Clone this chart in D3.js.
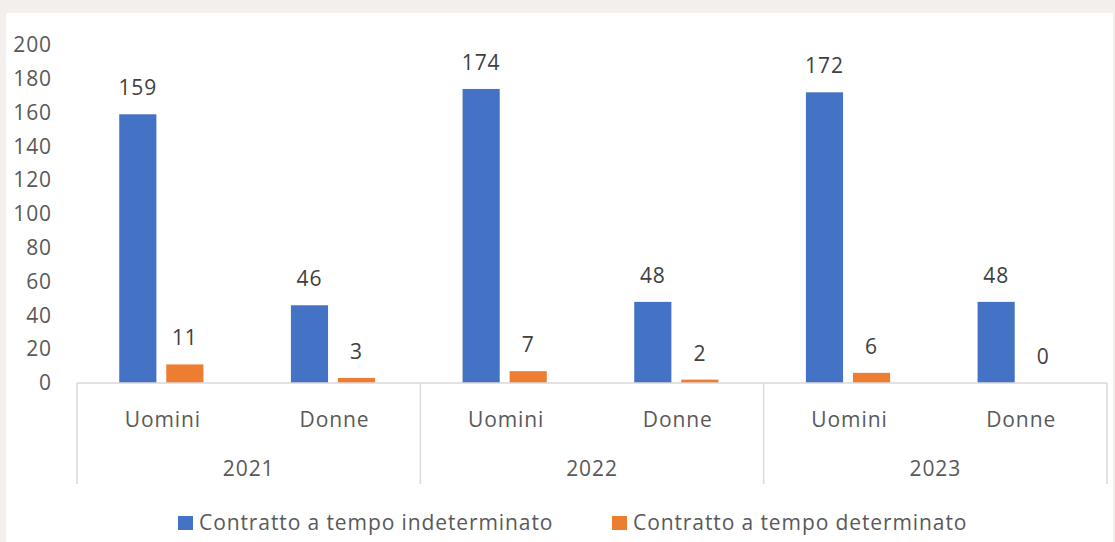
<!DOCTYPE html>
<html lang="it">
<head>
  <meta charset="UTF-8">
  <title>Contratti per genere e anno</title>
  <script src="https://d3js.org/d3.v7.min.js"></script>
  <style>
    body {
      margin: 0;
      background-color: #f2efec;
      font-family: "Open Sans", Arial, sans-serif;
    }
    svg { display: block; }
    svg text { letter-spacing: 0.9px; }
  </style>
</head>
<body>
<svg width="1115" height="542"></svg>
<script>
  // data
  const years = ["2021", "2022", "2023"];
  const genders = ["Uomini", "Donne"];
  const indeterminato = [159, 46, 174, 48, 172, 48];
  const determinato = [11, 3, 7, 2, 6, 0];
  const seriesNames = ["Contratto a tempo indeterminato", "Contratto a tempo determinato"];
  const yTicks = [0, 20, 40, 60, 80, 100, 120, 140, 160, 180, 200];

  const colors = ["#4472c4", "#ed7d31"];
  const textColor = "#404040";
  const labelColor = "#595959";
  const gridColor = "#d9d9d9";
  const fontSize = "21px";

  const svg = d3.select("svg");

  // white panel
  svg.append("rect")
    .attr("x", 6).attr("y", 13)
    .attr("width", 1107).attr("height", 529)
    .attr("fill", "#fff");

  const plot = { left: 77, right: 1107, top: 45, bottom: 383 };

  const y = d3.scaleLinear().domain([0, 200]).range([plot.bottom, plot.top]);

  const xYear = d3.scaleBand().domain(years).range([plot.left, plot.right]);
  const xGender = d3.scaleBand().domain(genders).range([0, xYear.bandwidth()]);
  const xSeries = d3.scaleBand().domain([0, 1]).range([0, xGender.bandwidth()])
    .paddingInner(0.21).paddingOuter(0.93);

  const rows = [];
  years.forEach((yr, i) => {
    genders.forEach((g, j) => {
      const k = i * genders.length + j;
      rows.push({ year: yr, gender: g, values: [indeterminato[k], determinato[k]] });
    });
  });

  // y axis labels
  const yAxis = svg.append("g")
    .attr("transform", `translate(52,0)`)
    .call(d3.axisLeft(y).tickValues(yTicks).tickSize(0).tickPadding(0));
  yAxis.select(".domain").remove();
  yAxis.selectAll("text")
    .attr("fill", labelColor)
    .style("font-size", fontSize)
    .style("font-family", "'Open Sans', Arial, sans-serif");

  // bars
  const groups = svg.append("g").selectAll("g")
    .data(rows)
    .join("g")
    .attr("transform", d => `translate(${xYear(d.year) + xGender(d.gender) - 1.5},0)`);

  groups.selectAll("rect")
    .data(d => d.values.map((v, s) => ({ v, s })))
    .join("rect")
    .attr("x", d => xSeries(d.s))
    .attr("width", xSeries.bandwidth())
    .attr("y", d => y(d.v))
    .attr("height", d => y(0) - y(d.v))
    .attr("fill", d => colors[d.s]);

  groups.selectAll("text")
    .data(d => d.values.map((v, s) => ({ v, s })))
    .join("text")
    .attr("x", d => xSeries(d.s) + xSeries.bandwidth() / 2)
    .attr("y", d => y(d.v) - 19)
    .attr("text-anchor", "middle")
    .attr("fill", textColor)
    .style("font-size", fontSize)
    .text(d => d.v);

  // category axis: baseline and group separators
  const axisG = svg.append("g");
  axisG.append("line")
    .attr("x1", plot.left).attr("x2", plot.right)
    .attr("y1", plot.bottom).attr("y2", plot.bottom)
    .attr("stroke", gridColor).attr("stroke-width", 1.5);

  const seps = years.map(yr => xYear(yr)).concat([plot.right]);
  axisG.selectAll("line.sep")
    .data(seps)
    .join("line")
    .attr("class", "sep")
    .attr("x1", d => d).attr("x2", d => d)
    .attr("y1", plot.bottom).attr("y2", 484)
    .attr("stroke", gridColor).attr("stroke-width", 1.5);

  axisG.selectAll("text.gender")
    .data(rows)
    .join("text")
    .attr("class", "gender")
    .attr("x", d => xYear(d.year) + xGender(d.gender) + xGender.bandwidth() / 2)
    .attr("y", 427)
    .attr("text-anchor", "middle")
    .attr("fill", labelColor)
    .style("font-size", fontSize)
    .text(d => d.gender);

  axisG.selectAll("text.year")
    .data(years)
    .join("text")
    .attr("class", "year")
    .attr("x", d => xYear(d) + xYear.bandwidth() / 2)
    .attr("y", 476)
    .attr("text-anchor", "middle")
    .attr("fill", labelColor)
    .style("font-size", fontSize)
    .text(d => d);

  // legend
  const legendX = [178, 612];
  const legend = svg.append("g").selectAll("g")
    .data(seriesNames)
    .join("g")
    .attr("transform", (d, i) => `translate(${legendX[i]},516)`);
  legend.append("rect")
    .attr("width", 15).attr("height", 14)
    .attr("fill", (d, i) => colors[i]);
  legend.append("text")
    .attr("x", 21).attr("y", 14)
    .attr("fill", labelColor)
    .style("font-size", fontSize)
    .text(d => d);
</script>
</body>
</html>
